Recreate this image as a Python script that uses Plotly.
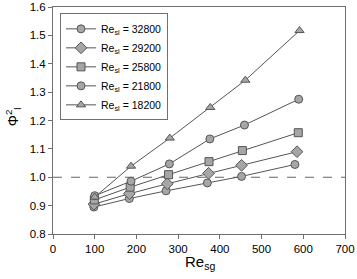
import plotly.graph_objects as go

series_names = ["32800", "29200", "25800", "21800", "18200"]
symbols = ["circle", "diamond", "square", "circle", "triangle-up"]

x_32800 = [98, 183, 271, 370, 452, 580]
y_32800 = [0.895, 0.925, 0.952, 0.980, 1.003, 1.045]
x_29200 = [98, 183, 274, 373, 452, 585]
y_29200 = [0.905, 0.942, 0.977, 1.014, 1.042, 1.090]
x_25800 = [99, 185, 277, 374, 454, 588]
y_25800 = [0.920, 0.965, 1.009, 1.055, 1.094, 1.157]
x_21800 = [100, 187, 279, 376, 459, 589]
y_21800 = [0.935, 0.986, 1.047, 1.135, 1.184, 1.275]
x_18200 = [100, 187, 280, 377, 461, 591]
y_18200 = [0.930, 1.039, 1.138, 1.246, 1.342, 1.517]

xs = [x_32800, x_29200, x_25800, x_21800, x_18200]
ys = [y_32800, y_29200, y_25800, y_21800, y_18200]

x_ticks = [0, 100, 200, 300, 400, 500, 600, 700]
y_ticks = [0.8, 0.9, 1.0, 1.1, 1.2, 1.3, 1.4, 1.5, 1.6]
ref_line = 1.0

fig = go.Figure()
for name, sym, x, y in zip(series_names, symbols, xs, ys):
    fig.add_trace(go.Scatter(
        x=x, y=y, mode="lines+markers",
        name=f"Re<sub>sl</sub> = {name}",
        line=dict(color="#555555", width=1),
        marker=dict(symbol=sym, size=8 if sym != "diamond" else 9,
                    color="#a6a6a6", line=dict(color="#555555", width=1)),
    ))

fig.add_shape(type="line", xref="paper", yref="y", x0=0, x1=1, y0=ref_line, y1=ref_line,
              line=dict(color="#666666", width=1, dash="dash"), layer="below")

axis_common = dict(showgrid=False, zeroline=False, showline=True, linecolor="#707070",
                   linewidth=1, mirror=True, ticks="outside", ticklen=4, tickcolor="#707070",
                   tickfont=dict(size=11.5, color="#000000"), automargin=False,
                   ticklabeloverflow="allow")

fig.update_layout(
    width=357, height=279,
    margin=dict(l=53, r=12, t=7, b=45),
    paper_bgcolor="white", plot_bgcolor="white",
    font=dict(family="Liberation Sans, Arial, sans-serif", size=12, color="#000000"),
    xaxis=dict(range=[0, 700], tickvals=x_ticks, ticktext=[str(v) for v in x_ticks], **axis_common),
    yaxis=dict(range=[0.8, 1.6], tickvals=y_ticks, ticktext=[f"{v:.1f}" for v in y_ticks], **axis_common),
    legend=dict(x=0.024, y=0.972, xanchor="left", yanchor="top",
                bordercolor="#707070", borderwidth=1, bgcolor="white",
                font=dict(size=10.5), tracegroupgap=0, itemwidth=30),
    showlegend=True,
)

fig.add_annotation(text="Re<sub>sg</sub>", xref="paper", yref="paper", x=0.503, y=-0.127,
                   xanchor="center", yanchor="middle", showarrow=False, font=dict(size=15))
fig.add_annotation(text="Φ<sup>2</sup><sub>l</sub>", xref="paper", yref="paper", x=-0.134, y=0.518,
                   xanchor="center", yanchor="middle", showarrow=False, textangle=-90,
                   font=dict(size=14))

fig.write_html("out.html", config={"displayModeBar": False},
               post_script="document.body.style.margin='0';document.body.style.overflow='hidden';")
